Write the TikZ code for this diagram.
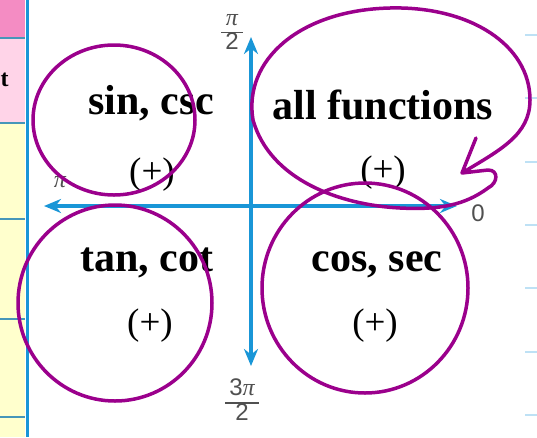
\documentclass[tikz,border=0pt]{standalone}
\usepackage{fontspec}
\setmainfont{Liberation Serif}
\newfontfamily\lsans{Liberation Sans}
\newfontfamily\lserif{Liberation Serif}
\usetikzlibrary{arrows.meta}
\definecolor{axisblue}{RGB}{25,150,215}
\definecolor{purp}{RGB}{155,0,140}
\definecolor{pinkA}{RGB}{244,140,195}
\definecolor{pinkB}{RGB}{255,212,232}
\definecolor{yellowA}{RGB}{255,255,205}
\definecolor{cellline}{RGB}{70,150,185}
\definecolor{dashblue}{RGB}{190,225,245}
\definecolor{labelgray}{RGB}{80,80,80}
\newcommand{\pifrac}[2]{\setlength{\arrayrulewidth}{1.3pt}\renewcommand{\arraystretch}{0.85}\begin{tabular}{@{\,}c@{\,}}#1\\\hline #2\end{tabular}}
\newcommand{\pisym}{{\lserif\itshape π}}
\tikzset{
  axis/.style={draw=axisblue, line width=4pt, {Stealth[length=17pt,width=14pt]}-{Stealth[length=17pt,width=14pt]}},
  loop/.style={draw=purp, line width=3.5pt, line join=round, line cap=round},
  fname/.style={font=\bfseries\fontsize{42}{44}\selectfont, inner sep=0pt},
  sign/.style={font=\fontsize{37}{39}\selectfont, inner sep=0pt},
  axlabel/.style={text=labelgray, font=\lsans\fontsize{24}{26}\selectfont, inner sep=0pt},
  tick/.style={draw=dashblue, line width=2pt}
}
\begin{document}
\begin{tikzpicture}[x=1pt,y=-1pt]
\useasboundingbox (0,0) rectangle (537,437);
\fill[white] (0,0) rectangle (537,437);
% left strip of table
\fill[pinkA] (0,0) rectangle (25,38);
\fill[pinkB] (0,38) rectangle (25,123);
\fill[yellowA] (0,123) rectangle (25,437);
\foreach \yy in {38,123,219,319,417} \draw[cellline, line width=2pt] (0,\yy) -- (25,\yy);
\node[font=\bfseries\fontsize{24}{24}\selectfont, inner sep=0pt, anchor=west] (tfrag) at (0.5,80) {t};
\draw[axisblue, line width=3pt] (27.5,0) -- (27.5,437);
% right ticks
\foreach \yy in {35,98,162,225,288,352,415} \draw[tick] (525,\yy) -- (537,\yy);
% axes
\coordinate (top) at (251,37);
\coordinate (bot) at (251,366);
\coordinate (lft) at (44,206);
\coordinate (rgt) at (457,206);
\draw[axis] (lft) -- (rgt);
\draw[axis] (bot) -- (top);
% axis labels
\node[axlabel] (l1) at (232,33) {\pifrac{\pisym}{2}};
\node[axlabel] (l2) at (242,403) {\pifrac{3\pisym}{2}};
\node[axlabel] (l3) at (60,182) {\pisym};
\node[axlabel] (l4) at (478,213) {0};
% texts
\node[fname] (q2) at (151,103) {sin, csc};
\node[sign] (s2) at (152,175) {(+)};
\node[fname] (q1) at (383,105) {all functions};
\node[sign] (s1) at (383,173) {(+)};
\node[fname] (q3) at (147,263) {tan, cot};
\node[sign] (s3) at (150,326) {(+)};
\node[fname] (q4) at (377,265) {cos, sec};
\node[sign] (s4) at (375,326) {(+)};
% circles
\draw[loop] (114,120) ellipse [x radius=81, y radius=75];
\draw[loop] (115,303) ellipse [x radius=97, y radius=98];
\draw[loop] (365,288) ellipse [x radius=103, y radius=105];
\draw[loop] (476,138) -- (462,173) -- (488,170)
  .. controls (499,170) and (498,183) .. (488,188)
  .. controls (465,205) and (440,210) .. (400,208)
  .. controls (340,205) and (270,180) .. (253,120)
  .. controls (243,60) and (300,10) .. (390,8)
  .. controls (470,6) and (530,45) .. (530,100)
  .. controls (530,135) and (500,150) .. (462,173);
\end{tikzpicture}
\end{document}
